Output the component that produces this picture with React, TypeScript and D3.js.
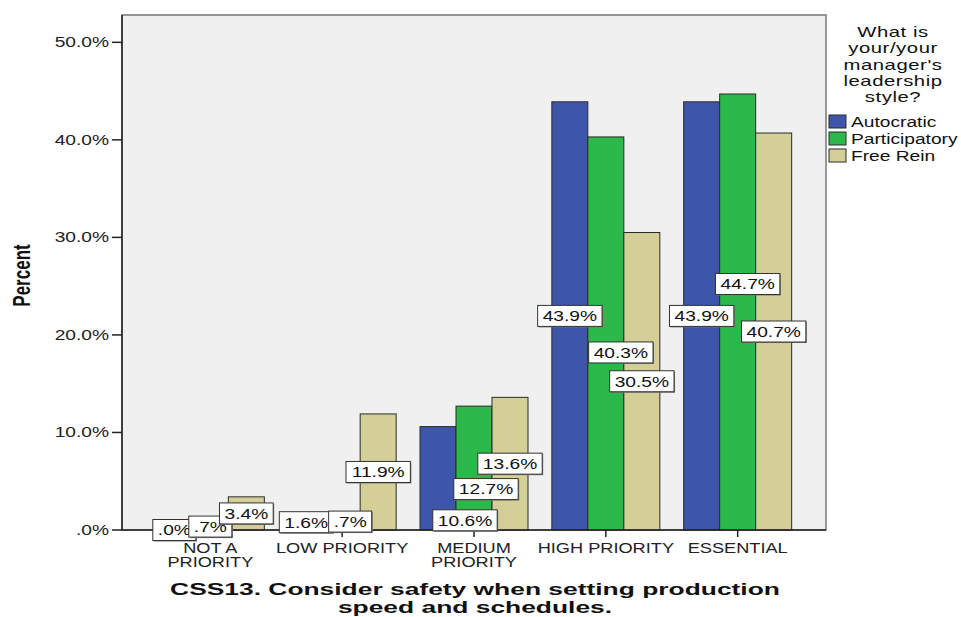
import * as d3 from "d3";

const categories = ["NOT A PRIORITY", "LOW PRIORITY", "MEDIUM PRIORITY", "HIGH PRIORITY", "ESSENTIAL"];
const categoryLines = [["NOT A", "PRIORITY"], ["LOW PRIORITY"], ["MEDIUM", "PRIORITY"], ["HIGH PRIORITY"], ["ESSENTIAL"]];
const seriesNames = ["Autocratic", "Participatory", "Free Rein"];
const autocratic = [0.0, 1.6, 10.6, 43.9, 43.9];
const participatory = [0.7, 0.7, 12.7, 40.3, 44.7];
const freeRein = [3.4, 11.9, 13.6, 30.5, 40.7];
const yTicks = [0, 10, 20, 30, 40, 50];
const legendTitle = ["What is", "your/your", "manager's", "leadership", "style?"];
const chartTitle = ["CSS13. Consider safety when setting production", "speed and schedules."];

// label nudges (px) that SPSS applied to avoid overlapping boxes
const labelDx = [
  [0, 0, 27, 0, 0],
  [0, 8, 12, 15, 10],
  [0, 0, 0, 0, 0],
];
const labelDy = [
  [0, 0, 42, 0, 0],
  [0, -5, 21, 19, -28],
  [0, 0, 0, 0, 0],
];

const colors = ["#3d56aa", "#2db84a", "#d3cf97"];
const FONT = "'Liberation Sans', Arial, sans-serif";
const SX = 1.37;

const W = 961;
const H = 617;
const plot = { left: 122, right: 826, top: 15, bottom: 530 };
const barW = 36;

function fmt(v: number) {
  const s = v.toFixed(1);
  return (s.startsWith("0") ? s.slice(1) : s) + "%";
}

function approxWidth(s: string, size: number) {
  let w = 0;
  for (const c of s) {
    if (c === ".") w += 0.278;
    else if (c === "%") w += 0.889;
    else w += 0.556;
  }
  return w * size * SX;
}

function SText(props: {
  x: number; y: number; children: string; anchor?: string; size?: number;
  weight?: string; fill?: string; sx?: number; spacing?: number;
}) {
  const { x, y, children, anchor = "start", size = 14, weight = "normal", fill = "#111", sx = SX, spacing = 0 } = props;
  return (
    <text
      transform={`translate(${x},${y}) scale(${sx},1)`}
      textAnchor={anchor}
      dy="0.35em"
      fontSize={size}
      fontWeight={weight}
      fill={fill}
      fontFamily={FONT}
      letterSpacing={spacing}
    >
      {children}
    </text>
  );
}

export default function App() {
  const series = [autocratic, participatory, freeRein];

  const y = d3.scaleLinear().domain([0, 52.8]).range([plot.bottom, plot.top]);
  const x = d3.scalePoint<string>().domain(categories).range([plot.left, plot.right]).padding(0.67);

  const bars: JSX.Element[] = [];
  const labels: JSX.Element[] = [];
  series.forEach((vals, si) => {
    vals.forEach((v, ci) => {
      const cx = (x(categories[ci]) as number) + (si - 1) * barW;
      const top = y(v);
      if (v > 0) {
        bars.push(
          <rect key={`b${si}-${ci}`} x={cx - barW / 2} y={top} width={barW} height={plot.bottom - top}
            fill={colors[si]} stroke="#2a2a2a" strokeWidth={1} />
        );
      }
      const lx = cx + labelDx[si][ci];
      const ly = y(v / 2) + labelDy[si][ci];
      const txt = fmt(v);
      const bw = approxWidth(txt, 14) + 10;
      const bh = 21;
      labels.push(
        <g key={`l${si}-${ci}`}>
          <rect x={lx - bw / 2 + 1} y={ly - bh / 2 + 1} width={bw} height={bh} fill="#777" />
          <rect x={lx - bw / 2} y={ly - bh / 2} width={bw} height={bh} fill="#fff" stroke="#333" strokeWidth={1} />
          <SText x={lx} y={ly + 0.5} anchor="middle" size={14}>{txt}</SText>
        </g>
      );
    });
  });

  return (
    <svg width={W} height={H} style={{ position: "absolute", left: 0, top: 0, background: "#fff" }}>
      <rect x={plot.left} y={plot.top} width={plot.right - plot.left} height={plot.bottom - plot.top}
        fill="#f0f0f0" stroke="#777" strokeWidth={1.5} />
      {bars}
      <line x1={plot.left} x2={plot.left} y1={plot.top} y2={plot.bottom} stroke="#222" strokeWidth={1.5} />
      <line x1={plot.left} x2={plot.right} y1={plot.bottom} y2={plot.bottom} stroke="#222" strokeWidth={1.5} />
      {yTicks.map((t) => (
        <g key={t}>
          <line x1={plot.left - 10} x2={plot.left} y1={y(t)} y2={y(t)} stroke="#222" strokeWidth={1.5} />
          <SText x={plot.left - 13} y={y(t)} anchor="end" size={14} fill="#222">{fmt(t)}</SText>
        </g>
      ))}
      {categories.map((c, ci) => (
        <g key={c}>
          <line x1={x(c) as number} x2={x(c) as number} y1={plot.bottom} y2={plot.bottom + 7} stroke="#222" strokeWidth={1.5} />
          {categoryLines[ci].map((ln, li) => (
            <SText key={ln} x={x(c) as number} y={plot.bottom + 18 + li * 14.5} anchor="middle" size={14} sx={1.3} fill="#222">{ln}</SText>
          ))}
        </g>
      ))}
      {labels}
      <text transform={`translate(22,${(plot.top + plot.bottom) / 2 + 3}) rotate(-90) scale(1,1.4)`}
        textAnchor="middle" dy="0.35em" fontSize={17} fontWeight="bold" fontFamily={FONT} fill="#111">Percent</text>
      {chartTitle.map((ln, i) => (
        <SText key={ln} x={(plot.left + plot.right) / 2 + 1} y={589 + i * 18} anchor="middle" size={16.5} weight="bold" sx={1.6}>{ln}</SText>
      ))}
      {legendTitle.map((ln, i) => (
        <SText key={ln} x={893} y={32 + i * 16.3} anchor="middle" size={14.5} sx={1.4} spacing={0.4}>{ln}</SText>
      ))}
      {seriesNames.map((n, i) => (
        <g key={n}>
          <rect x={829} y={115 + i * 17} width={17} height={13} fill={colors[i]} stroke="#2a2a2a" strokeWidth={1} />
          <SText x={851} y={122 + i * 17} size={14}>{n}</SText>
        </g>
      ))}
    </svg>
  );
}
